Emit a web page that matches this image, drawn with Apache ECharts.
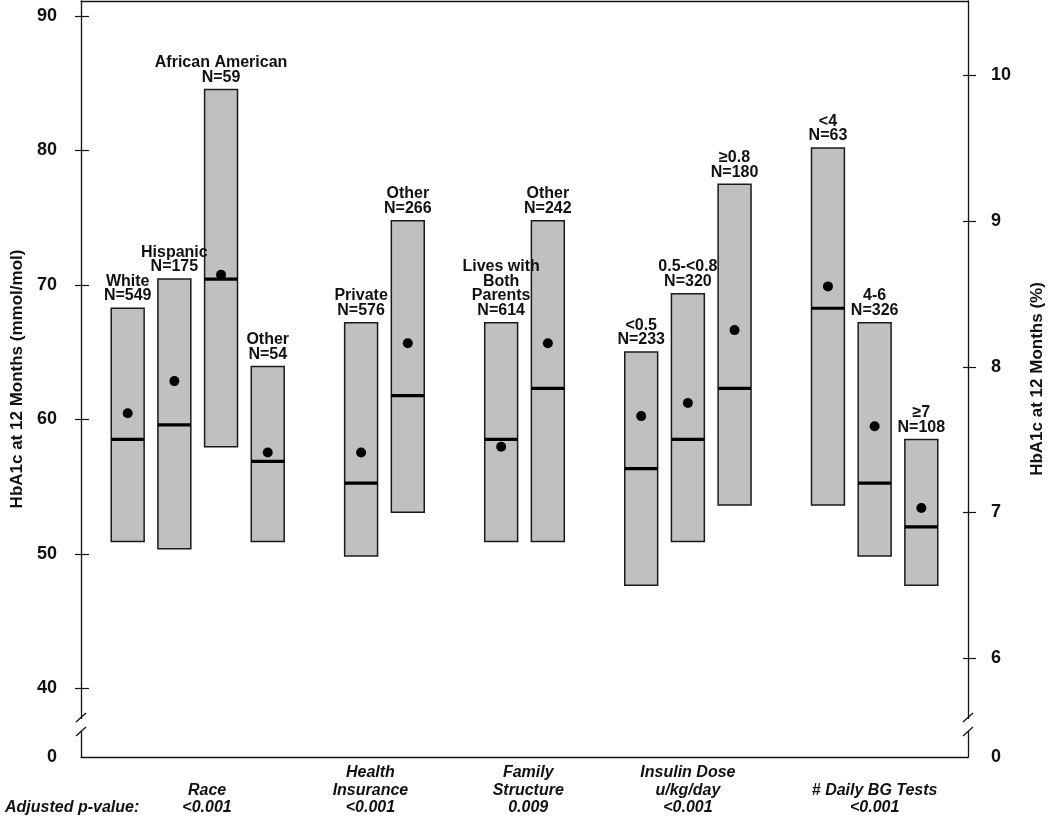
<!DOCTYPE html>
<html><head><meta charset="utf-8">
<script src="https://cdn.jsdelivr.net/npm/echarts@6/dist/echarts.min.js"></script>
<style>html,body{margin:0;padding:0;background:#fff}#c{width:1050px;height:818px}</style>
</head><body><div id="c"></div>
<script>
// ---------- DATA ----------
const groupNames = ['Race', 'Health\nInsurance', 'Family\nStructure', 'Insulin Dose\nu/kg/day', '# Daily BG Tests'];
const groupPValues = ['<0.001', '<0.001', '0.009', '<0.001', '<0.001'];
const groupSizes = [4, 2, 2, 3, 3];
const categories = ['White', 'Hispanic', 'African American', 'Other', 'Private', 'Other',
  'Lives with\nBoth\nParents', 'Other', '<0.5', '0.5-<0.8', '≥0.8', '<4', '4-6', '≥7'];
const nValues = [549, 175, 59, 54, 576, 266, 614, 242, 233, 320, 180, 63, 326, 108];
// HbA1c (%) : 25th percentile, 75th percentile, median, mean
const q1 =      [6.80, 6.75, 7.45, 6.80, 6.70, 7.00, 6.80, 6.80, 6.50, 6.80, 7.05, 7.05, 6.70, 6.50];
const q3 =      [8.40, 8.60, 9.90, 8.00, 8.30, 9.00, 8.30, 9.00, 8.10, 8.50, 9.25, 9.50, 8.30, 7.50];
const medians = [7.50, 7.60, 8.60, 7.35, 7.20, 7.80, 7.50, 7.85, 7.30, 7.50, 7.85, 8.40, 7.20, 6.90];
const means =   [7.68, 7.90, 8.63, 7.41, 7.41, 8.16, 7.45, 8.16, 7.66, 7.75, 8.25, 8.55, 7.59, 7.03];
const leftTicks = [40, 50, 60, 70, 80, 90];   // mmol/mol
const rightTicks = [6, 7, 8, 9, 10];          // %
const breakLabel = '0';

// ---------- LAYOUT ----------
const LEFT_MIN = 34.87, LEFT_MAX = 91.09;
const RIGHT_MIN = 5.321, RIGHT_MAX = 10.508;
const FONT = '"Liberation Sans", Arial, sans-serif';
const groupLabelShift = [0.2, -0.3, 0.08, 0, 0];

// slot positions: groups separated by one empty slot
const xs = [];
const groupCenters = [];
{
  let s = 1;
  groupSizes.forEach(n => {
    const first = s;
    for (let k = 0; k < n; k++) xs.push(s++);
    groupCenters.push((first + s - 1) / 2);
    s++;
  });
}
const X_MAX = xs[xs.length - 1] + 1;

const data = xs.map((x, i) => [x, q1[i], q3[i], medians[i], means[i]]);

const chart = echarts.init(document.getElementById('c'), null, { renderer: 'canvas' });

const axisLineStyle = { color: '#111', width: 1.3 };
const labelStyle = { color: '#111', fontFamily: FONT, fontWeight: 'bold', fontSize: 18 };
const nameStyle = { color: '#111', fontFamily: FONT, fontWeight: 'bold', fontSize: 17 };

chart.setOption({
  animation: false,
  backgroundColor: '#fff',
  grid: { left: 81, right: 82, top: 1, bottom: 61, containLabel: false, outerBoundsMode: 'none' },
  xAxis: [
    { type: 'value', min: 0, max: X_MAX, position: 'bottom',
      axisLine: { show: true, lineStyle: axisLineStyle }, axisTick: { show: false },
      axisLabel: { show: false }, splitLine: { show: false } },
    { type: 'value', min: 0, max: X_MAX, position: 'top',
      axisLine: { show: true, lineStyle: axisLineStyle }, axisTick: { show: false },
      axisLabel: { show: false }, splitLine: { show: false } }
  ],
  yAxis: [
    { type: 'value', position: 'left', min: LEFT_MIN, max: LEFT_MAX,
      axisLine: { show: true, onZero: false, lineStyle: axisLineStyle },
      axisTick: { show: false },
      axisLabel: { ...labelStyle, margin: 24, customValues: [LEFT_MIN].concat(leftTicks),
        formatter: v => (v < leftTicks[0] - 1 ? breakLabel : String(v)) },
      splitLine: { show: false },
      name: 'HbA1c at 12 Months (mmol/mol)', nameLocation: 'middle', nameRotate: 90, nameGap: 54,
      nameTextStyle: nameStyle },
    { type: 'value', position: 'right', min: RIGHT_MIN, max: RIGHT_MAX,
      axisLine: { show: true, onZero: false, lineStyle: axisLineStyle },
      axisTick: { show: false },
      axisLabel: { ...labelStyle, margin: 23, customValues: [RIGHT_MIN].concat(rightTicks),
        formatter: v => (v < rightTicks[0] - 0.5 ? breakLabel : String(v)) },
      splitLine: { show: false },
      name: 'HbA1c at 12 Months (%)', nameLocation: 'middle', nameRotate: 90, nameGap: 61,
      nameTextStyle: nameStyle }
  ],
  series: [{
    type: 'custom',
    xAxisIndex: 0,
    yAxisIndex: 1,
    data: data,
    renderItem: function (params, api) {
      const x = api.value(0);
      const pLo = api.coord([x, api.value(1)]);
      const pHi = api.coord([x, api.value(2)]);
      const pMed = api.coord([x, api.value(3)]);
      const pMean = api.coord([x, api.value(4)]);
      const w = api.size([1, 0])[0] * 0.705;
      const cx = pLo[0];
      return {
        type: 'group',
        children: [
          { type: 'rect', shape: { x: cx - w / 2, y: pHi[1], width: w, height: pLo[1] - pHi[1] },
            style: { fill: '#c0c0c0', stroke: '#1a1a1a', lineWidth: 1.5 } },
          { type: 'line', shape: { x1: cx - w / 2, y1: pMed[1], x2: cx + w / 2, y2: pMed[1] },
            style: { stroke: '#000', lineWidth: 3.2 } },
          { type: 'circle', shape: { cx: cx, cy: pMean[1], r: 5 }, style: { fill: '#000' } }
        ]
      };
    }
  }, {
    type: 'custom',
    xAxisIndex: 0,
    yAxisIndex: 1,
    z: 10,
    data: data,
    renderItem: function (params, api) {
      const i = params.dataIndex;
      const pHi = api.coord([api.value(0), api.value(2)]);
      return { type: 'text', x: pHi[0], y: pHi[1] - 5,
        style: { text: categories[i] + '\nN=' + nValues[i], align: 'center', verticalAlign: 'bottom',
          font: 'bold 16px ' + FONT, lineHeight: 14.5, fill: '#111' } };
    }
  }]
});

// ---------- decorations: crossing ticks, axis breaks, group labels ----------
const yBottom = chart.convertToPixel({ yAxisIndex: 0 }, LEFT_MIN);
const xLeft = chart.convertToPixel({ xAxisIndex: 0 }, 0);
const xRight = chart.convertToPixel({ xAxisIndex: 0 }, X_MAX);
const graphics = [];
leftTicks.forEach(v => {
  const y = Math.round(chart.convertToPixel({ yAxisIndex: 0 }, v)) + 0.5;
  graphics.push({ type: 'line', shape: { x1: xLeft - 6, y1: y, x2: xLeft + 8, y2: y },
    style: { stroke: '#111', lineWidth: 1.2 }, z: 50 });
});
rightTicks.forEach(v => {
  const y = Math.round(chart.convertToPixel({ yAxisIndex: 1 }, v)) + 0.5;
  graphics.push({ type: 'line', shape: { x1: xRight - 5, y1: y, x2: xRight + 8, y2: y },
    style: { stroke: '#111', lineWidth: 1.2 }, z: 50 });
});
[xLeft, xRight].forEach(ax => {
  graphics.push({ type: 'rect', shape: { x: ax - 3, y: yBottom - 38, width: 6, height: 12 },
    style: { fill: '#fff' }, z: 100 });
  graphics.push({ type: 'line', shape: { x1: ax - 5, y1: yBottom - 35, x2: ax + 5, y2: yBottom - 44 },
    style: { stroke: '#111', lineWidth: 1.3 }, z: 101 });
  graphics.push({ type: 'line', shape: { x1: ax - 5, y1: yBottom - 21, x2: ax + 5, y2: yBottom - 30 },
    style: { stroke: '#111', lineWidth: 1.3 }, z: 101 });
});
groupNames.forEach((g, k) => {
  const gx = chart.convertToPixel({ xAxisIndex: 0 }, groupCenters[k] + groupLabelShift[k]);
  graphics.push({ type: 'text', x: gx, y: yBottom + 42,
    style: { text: g, align: 'center', verticalAlign: 'bottom', font: 'italic bold 16px ' + FONT,
      lineHeight: 17.5, fill: '#111' } });
  graphics.push({ type: 'text', x: gx, y: yBottom + 51,
    style: { text: groupPValues[k], align: 'center', verticalAlign: 'middle', font: 'italic bold 16px ' + FONT,
      fill: '#111' } });
});
graphics.push({ type: 'text', x: 5, y: yBottom + 51,
  style: { text: 'Adjusted p-value:', align: 'left', verticalAlign: 'middle', font: 'italic bold 16px ' + FONT,
    fill: '#111' } });
chart.setOption({ graphic: graphics });
</script>
</body></html>
